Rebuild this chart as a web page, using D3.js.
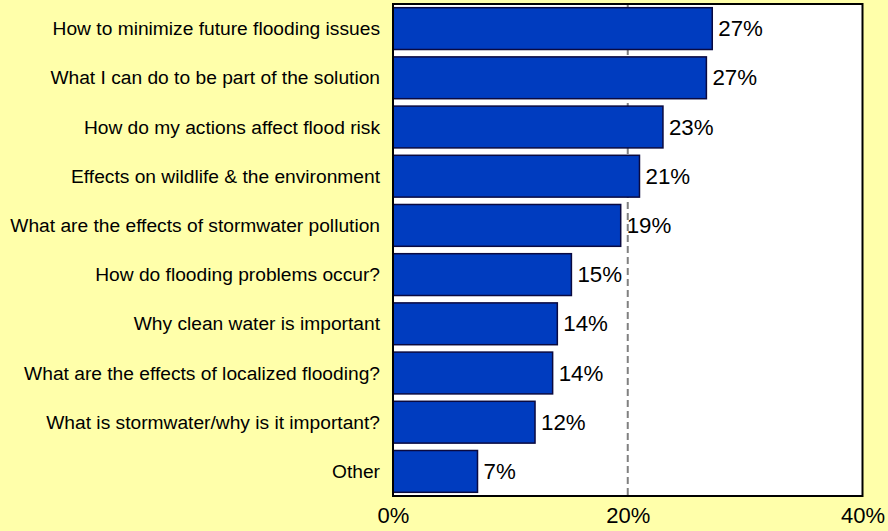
<!DOCTYPE html>
<html>
<head>
<meta charset="utf-8">
<script src="https://cdn.jsdelivr.net/npm/d3@7"></script>
<style>
  html, body { margin: 0; padding: 0; background: #FFFFAA; }
  svg { display: block; font-family: "Liberation Sans", Arial, sans-serif; }
  .cat-label { font-size: 19.2px; fill: #000; }
  .val-label { font-size: 22.3px; fill: #000; }
  .axis text { font-size: 22px; fill: #000; font-family: "Liberation Sans", Arial, sans-serif; }
</style>
</head>
<body>
<svg width="888" height="531"></svg>
<script>
// **** Data ****
var categories = [
    'How to minimize future flooding issues',
    'What I can do to be part of the solution',
    'How do my actions affect flood risk',
    'Effects on wildlife & the environment',
    'What are the effects of stormwater pollution',
    'How do flooding problems occur?',
    'Why clean water is important',
    'What are the effects of localized flooding?',
    'What is stormwater/why is it important?',
    'Other'
];
var percents = [27.2, 26.7, 23.0, 21.0, 19.4, 15.2, 14.0, 13.6, 12.1, 7.2];
var valueLabels = ['27%', '27%', '23%', '21%', '19%', '15%', '14%', '14%', '12%', '7%'];
var xTicks = [0, 20, 40];
var gridValues = [20];

var data = categories.map(function (c, i) {
    return { cat: c, value: percents[i], label: valueLabels[i] };
});

// **** Scales ****
var plotLeft = 393, plotRight = 862.5, plotTop = 4, plotBottom = 496;

var xScale = d3.scaleLinear()
    .domain([0, 40]).range([plotLeft, plotRight]);

var yScale = d3.scaleBand()
    .domain(categories).range([plotTop, plotBottom])
    .paddingInner(0.15).paddingOuter(0.075);

var svg = d3.select('svg');

// plot area background
svg.append('rect')
    .attr('x', plotLeft)
    .attr('y', plotTop)
    .attr('width', plotRight - plotLeft)
    .attr('height', plotBottom - plotTop)
    .style('fill', '#fff');

// dashed gridline at 20%
svg.selectAll('line.grid')
    .data(gridValues).enter()
    .append('line')
    .attr('class', 'grid')
    .attr('x1', function (d) { return xScale(d); })
    .attr('x2', function (d) { return xScale(d); })
    .attr('y1', plotTop)
    .attr('y2', plotBottom)
    .style('stroke', '#808080')
    .style('stroke-width', 2)
    .style('stroke-dasharray', '7,4');

// bars
svg.selectAll('rect.bar')
    .data(data).enter()
    .append('rect')
    .attr('class', 'bar')
    .attr('x', xScale(0))
    .attr('y', function (d) { return yScale(d.cat); })
    .attr('width', function (d) { return xScale(d.value) - xScale(0); })
    .attr('height', yScale.bandwidth())
    .style('fill', '#003CBF')
    .style('stroke', '#0a0a40')
    .style('stroke-width', 1.5);

// value labels
svg.selectAll('text.val-label')
    .data(data).enter()
    .append('text')
    .attr('class', 'val-label')
    .attr('x', function (d) { return xScale(d.value) + 6; })
    .attr('y', function (d) { return yScale(d.cat) + yScale.bandwidth() / 2; })
    .attr('dominant-baseline', 'central')
    .text(function (d) { return d.label; });

// category labels
svg.selectAll('text.cat-label')
    .data(data).enter()
    .append('text')
    .attr('class', 'cat-label')
    .attr('x', plotLeft - 13)
    .attr('y', function (d) { return yScale(d.cat) + yScale.bandwidth() / 2; })
    .attr('text-anchor', 'end')
    .attr('dominant-baseline', 'central')
    .text(function (d) { return d.cat; });

// plot border
svg.append('rect')
    .attr('x', plotLeft)
    .attr('y', plotTop)
    .attr('width', plotRight - plotLeft)
    .attr('height', plotBottom - plotTop)
    .style('fill', 'none')
    .style('stroke', '#000')
    .style('stroke-width', 2);

// x axis (labels only)
var xAxis = svg.append('g').attr('class', 'x axis')
    .attr('transform', 'translate(0,' + plotBottom + ')')
    .call(d3.axisBottom(xScale)
        .tickValues(xTicks)
        .tickSize(0)
        .tickPadding(11)
        .tickFormat(function (d) { return d + '%'; }));
xAxis.select('.domain').remove();
</script>
</body>
</html>
